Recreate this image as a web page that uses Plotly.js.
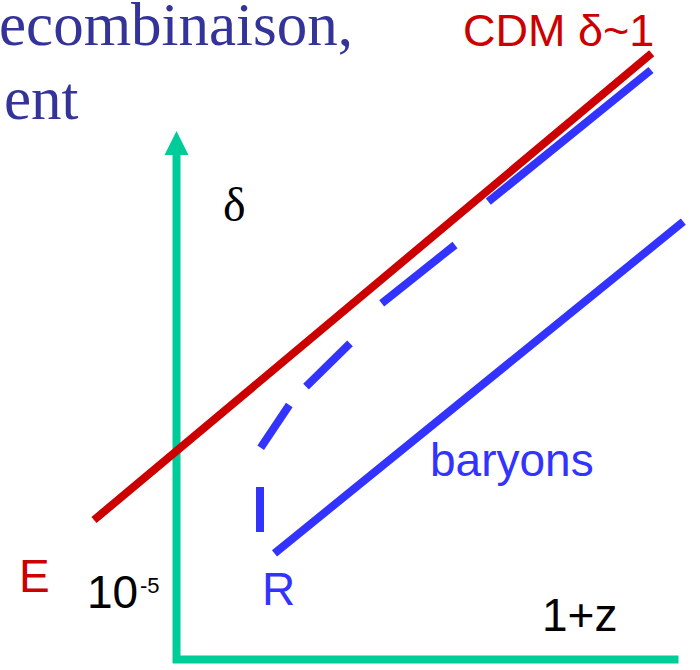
<!DOCTYPE html>
<html>
<head>
<meta charset="utf-8">
<script src="https://cdn.plot.ly/plotly-3.0.1.min.js"></script>
<style>html,body{margin:0;padding:0;background:#fff;}#chart{width:700px;height:670px;}</style>
</head>
<body>
<div id="chart"></div>
<script>
// Schematic: growth of perturbations delta vs (1+z), log-log, arbitrary units
// Axes (arbitrary units; origin of the arrows at 0,0)
const axisVertX = [0, 0];
const axisVertY = [-0.035, 5.06];
const axisVertTip = [0, 5.285];
const axisHorX = [-0.035, 5.02];
const axisHorY = [0, 0];
const axisHorTip = [5.255, 0];

// CDM line
const cdmX = [-0.825, 4.752];
const cdmY = [1.395, 6.062];

// Baryons (solid)
const baryX = [0.98, 5.068];
const baryY = [1.062, 4.378];

// Baryons catching up after recombination (dashed segments)
const dashX = [0.835, 0.835, null, 0.842, 1.128, null, 1.295, 1.735, null, 2.052, 2.785, null, 3.118, 4.745];
const dashY = [1.275, 1.725, null, 2.118, 2.545, null, 2.728, 3.162, null, 3.562, 4.145, null, 4.578, 5.895];

// Labels
const labelTexts = ['CDM δ~1', 'E', '10', '-5', 'R', '1+z', 'baryons'];
const labelX = [3.815, -1.425, -0.64, -0.385, 1.015, 4.03, 3.35];
const labelY = [6.29, 0.835, 0.68, 0.74, 0.705, 0.445, 1.995];
const deltaLabel = 'δ';
const headLines = ['ecombinaison,', 'ent'];
const headX = [-0.004, 0.003];
const headY = [6.35, 5.607];

const GREEN = '#00CC99', RED = '#CC0000', BLUE = '#3333FF', NAVY = '#333399';
const SANS = 'Liberation Sans, Arial, sans-serif';
const SERIF = 'Liberation Serif, Times New Roman, serif';

const traces = [
  {x: axisVertX, y: axisVertY, mode: 'lines', line: {color: GREEN, width: 8}, hoverinfo: 'skip', cliponaxis: false},
  {x: [axisVertTip[0]], y: [axisVertTip[1]], mode: 'markers', marker: {symbol: 'arrow-up', size: 24, color: GREEN, line: {width: 0}}, hoverinfo: 'skip', cliponaxis: false},
  {x: axisHorX, y: axisHorY, mode: 'lines', line: {color: GREEN, width: 8}, hoverinfo: 'skip', cliponaxis: false},
  {x: [axisHorTip[0]], y: [axisHorTip[1]], mode: 'markers', marker: {symbol: 'arrow-right', size: 23, color: GREEN, line: {width: 0}}, hoverinfo: 'skip', cliponaxis: false},
  {x: baryX, y: baryY, mode: 'lines', line: {color: BLUE, width: 8}, hoverinfo: 'skip'},
  {x: dashX, y: dashY, mode: 'lines', connectgaps: false, line: {color: BLUE, width: 8}, hoverinfo: 'skip'},
  {x: cdmX, y: cdmY, mode: 'lines', line: {color: RED, width: 8}, hoverinfo: 'skip'}
];

const colors = [RED, RED, '#000000', '#000000', BLUE, '#000000', BLUE];
const sizes = [45, 46, 46, 22, 46, 46, 46];
const anchors = ['center', 'center', 'center', 'left', 'center', 'center', 'center'];
const annotations = labelTexts.map((t, i) => ({
  x: labelX[i], y: labelY[i], xref: 'x', yref: 'y', text: t, showarrow: false,
  xanchor: anchors[i], yanchor: 'middle',
  font: {family: SANS, size: sizes[i], color: colors[i]}
}));
annotations.push({x: 0.575, y: 4.55, xref: 'x', yref: 'y', text: deltaLabel, showarrow: false,
  xanchor: 'center', yanchor: 'middle', font: {family: SERIF, size: 48, color: '#000000'}});
headLines.forEach((t, i) => annotations.push({
  x: headX[i], y: headY[i], xref: 'paper', yref: 'y', text: t, showarrow: false,
  xanchor: 'left', yanchor: 'middle', font: {family: SERIF, size: 61, color: NAVY}
}));

const layout = {
  width: 700, height: 670,
  margin: {l: 0, r: 0, t: 0, b: 0, pad: 0},
  paper_bgcolor: '#ffffff', plot_bgcolor: '#ffffff',
  showlegend: false,
  xaxis: {range: [-1.765, 5.235], visible: false, fixedrange: true},
  yaxis: {range: [-0.105, 6.595], visible: false, fixedrange: true},
  annotations: annotations
};

Plotly.newPlot('chart', traces, layout, {staticPlot: true, displayModeBar: false});
</script>
</body>
</html>
